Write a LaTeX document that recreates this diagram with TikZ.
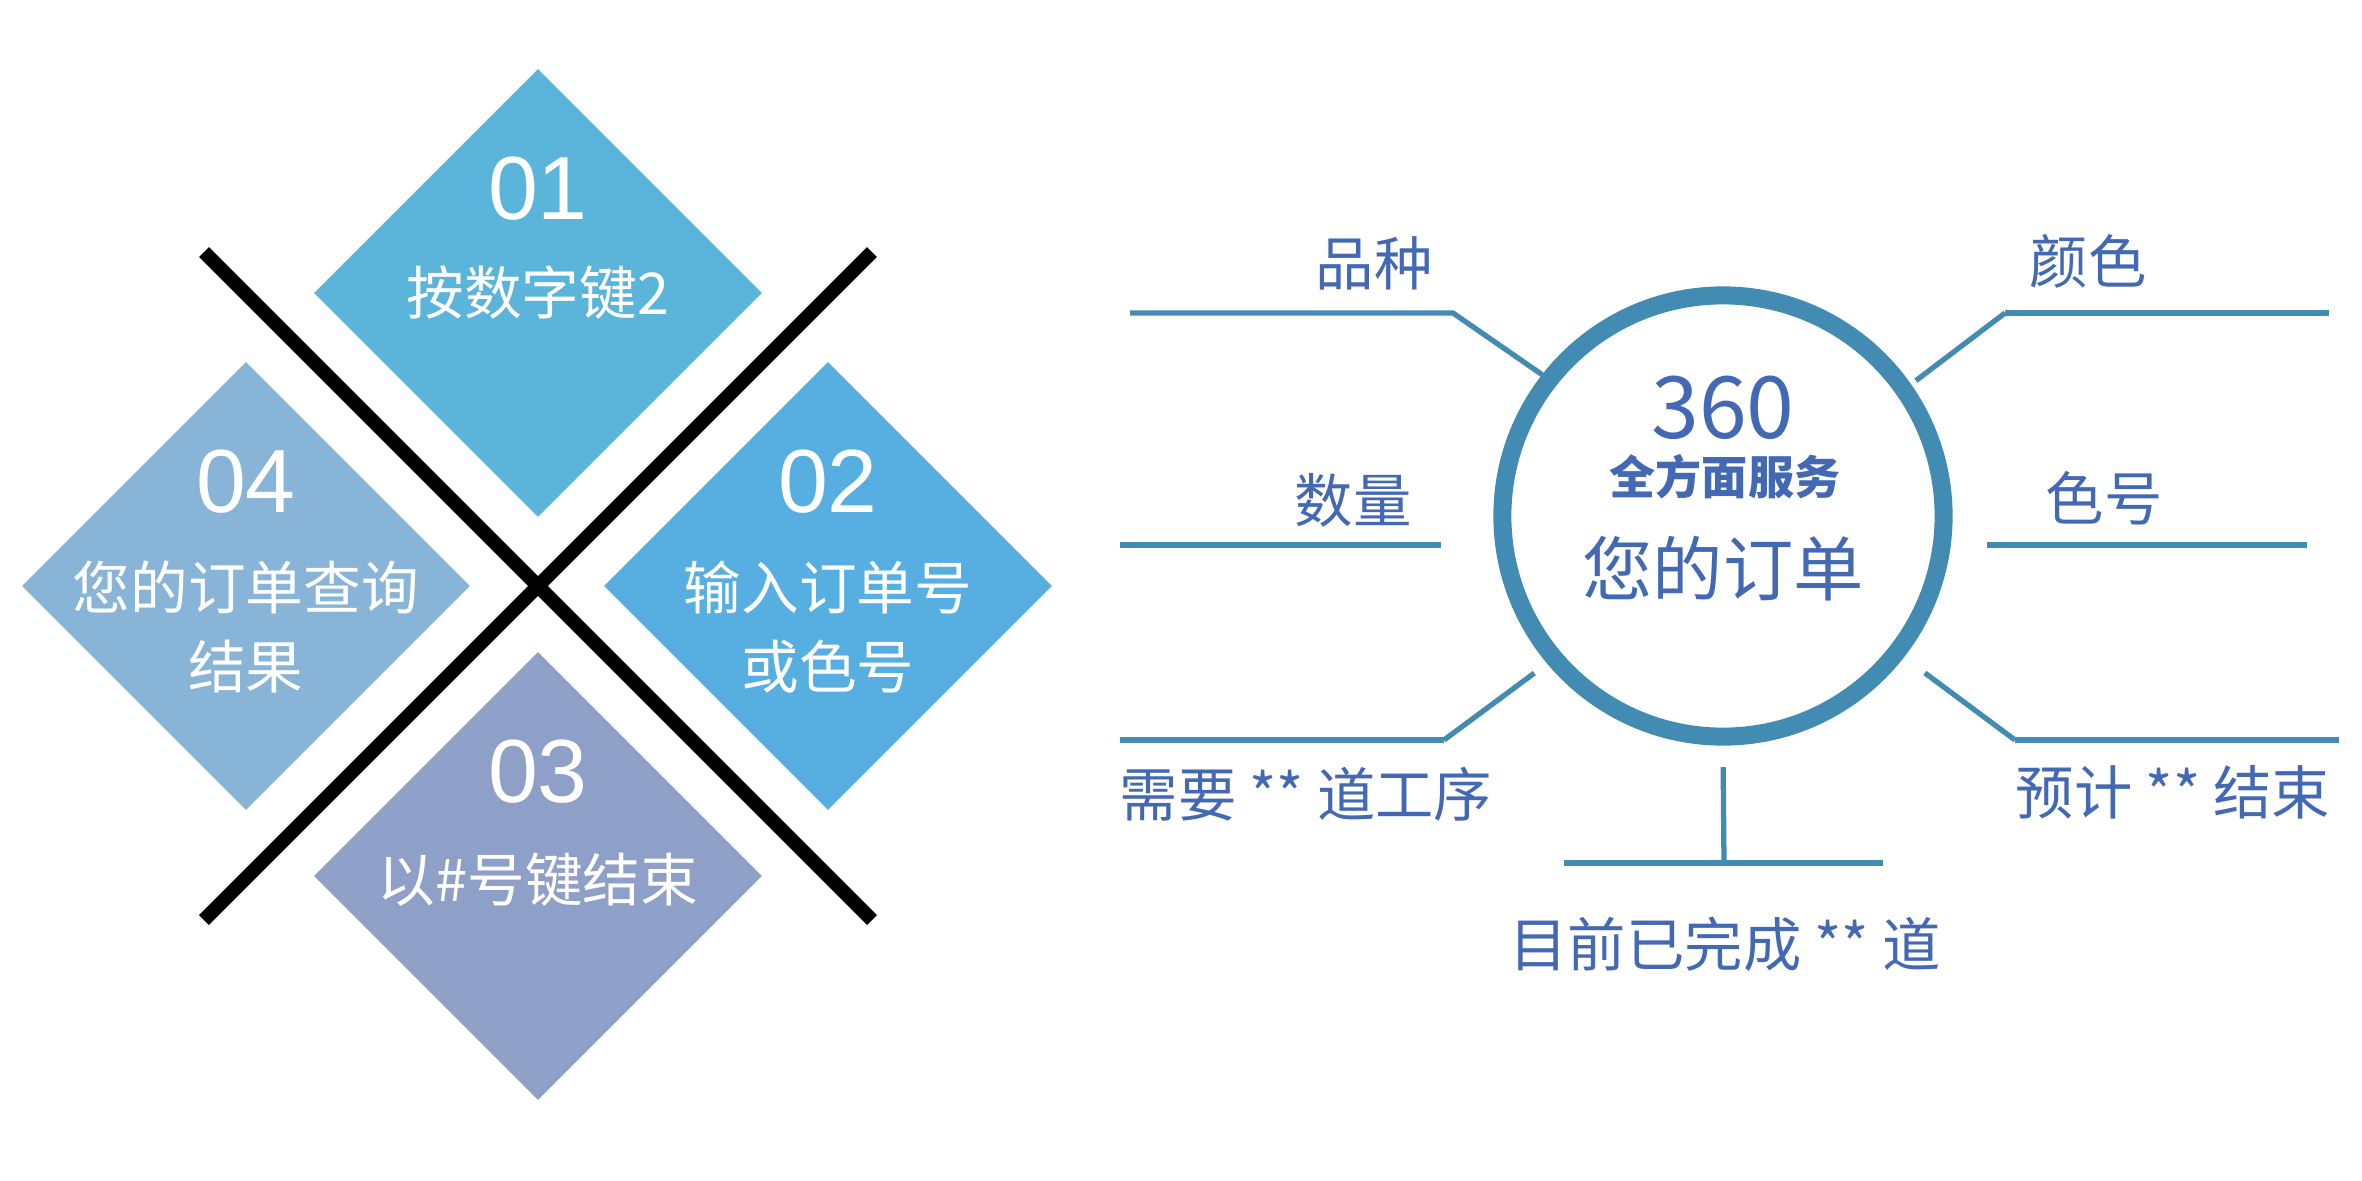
\documentclass[tikz,border=0pt]{standalone}
\usepackage{fontspec}
\setmainfont{Liberation Sans}
\newfontfamily\cjk{Noto Sans CJK SC}
\usetikzlibrary{shapes.geometric,calc,positioning}

\definecolor{tileA}{RGB}{91,180,217}
\definecolor{tileB}{RGB}{86,175,224}
\definecolor{tileC}{RGB}{142,160,199}
\definecolor{tileD}{RGB}{136,180,215}
\definecolor{ring}{RGB}{66,139,178}
\definecolor{ink}{RGB}{68,105,180}

\tikzset{
  tile/.style={diamond,aspect=1,minimum size=4.48cm,inner sep=0pt,fill=#1},
  tilenum/.style={text=white,inner sep=0pt,font=\fontsize{25.5}{30}\selectfont},
  tiletext/.style={text=white,inner sep=0pt,align=center,font=\cjk\fontsize{16.4}{22.5}\selectfont},
  bar/.style={line width=0.14cm},
  spoke/.style={draw=ring,line width=1.5pt},
  tag/.style={text=ink,inner sep=0pt,font=\cjk\fontsize{16.6}{20}\selectfont},
}

\begin{document}
\begin{tikzpicture}[x=0.01cm,y=-0.01cm]
        \useasboundingbox (0,0) rectangle (2362,1181);
        %#####################################################
        % four tiles and the cross
        \foreach \p/\c/\x/\y in {1/tileA/538/293,2/tileB/828/586,3/tileC/538/876,4/tileD/246/586}{
        \node[tile=\c] (d\p) at (\x,\y) {};
        \node[tilenum] (n\p) at ($(d\p)+(0,-104)$) {0\p};
        }
        \node[tiletext] (t1) at (d1) {按数字键2};
        \node[tiletext] (t2) at ($(d2)+(0,41)$) {输入订单号\\或色号};
        \node[tiletext] (t3) at ($(d3)+(0,4)$) {以\#号键结束};
        \node[tiletext] (t4) at ($(d4)+(0,41)$) {您的订单查询\\结果};

        \coordinate (c1) at (204,252);
        \coordinate (c2) at (872,920);
        \coordinate (c3) at (872,252);
        \coordinate (c4) at (204,920);
        \draw[bar] (c1) -- (c2);
        \draw[bar] (c3) -- (c4);

        %#####################################################
        % order hub with its spokes
        \node[circle,draw=ring,line width=0.18cm,minimum size=4.41cm,inner sep=0pt] (hub) at (1723,516) {};
        \node[tag,font=\cjk\fontsize{24.5}{28}\selectfont] (h1) at (1723,408) {360};
        \node[tag,font=\cjk\bfseries\fontsize{13.1}{16}\selectfont] (h2) at (1725,477) {全方面服务};
        \node[tag,font=\cjk\fontsize{20}{24}\selectfont] (h3) at (1723,569) {您的订单};

        \coordinate (k1) at (1453,313); \coordinate (e1) at (1130,313);
        \coordinate (k2) at (1441,545); \coordinate (e2) at (1120,545);
        \coordinate (k3) at (1444,740); \coordinate (e3) at (1120,740);
        \coordinate (k4) at (2005,313); \coordinate (e4) at (2329,313);
        \coordinate (k5) at (1987,545); \coordinate (e5) at (2307,545);
        \coordinate (k6) at (2015,740); \coordinate (e6) at (2339,740);
        \coordinate (k7) at (1724,863); \coordinate (e7) at (1564,863); \coordinate (f7) at (1883,863);

        \draw[spoke] (hub.142) -- (k1) -- (e1);
        \draw[spoke] (k2) -- (e2);
        \draw[spoke,shorten <=0.16cm] (hub.220) -- (k3);
        \draw[spoke] (k3) -- (e3);
        \draw[spoke,shorten <=0.06cm] (hub.35) -- (k4);
        \draw[spoke] (k4) -- (e4);
        \draw[spoke] (k5) -- (e5);
        \draw[spoke,shorten <=0.26cm] (hub.322) -- (k6);
        \draw[spoke] (k6) -- (e6);
        \draw[spoke,shorten <=0.215cm] (hub.270) -- (k7);
        \draw[spoke] (e7) -- (f7);

        \node[tag] (l1) at (1374,263) {品种};
        \node[tag] (l2) at (1353,500) {数量};
        \node[tag] (l3) at (1306,794) {需要 ** 道工序};
        \node[tag] (l4) at (2088,261) {颜色};
        \node[tag] (l5) at (2104,498) {色号};
        \node[tag] (l6) at (2173,792) {预计 ** 结束};
        \node[tag] (l7) at (1725,944) {目前已完成 ** 道};
\end{tikzpicture}
\end{document}
